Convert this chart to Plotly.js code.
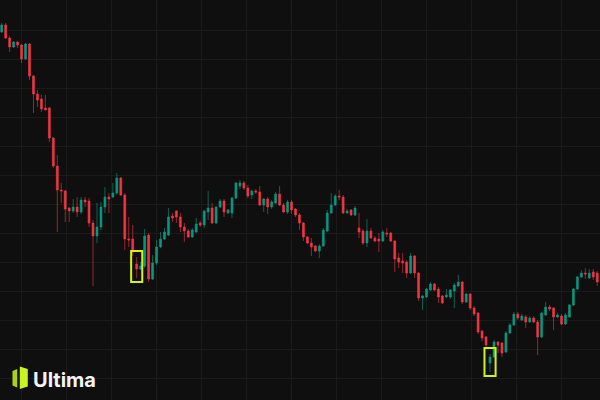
<!DOCTYPE html>
<html><head><meta charset="utf-8">
<script src="https://cdn.plot.ly/plotly-3.0.1.min.js"></script>
<style>html,body{margin:0;padding:0;background:#0f0f0f;}#chart{width:600px;height:400px;}</style>
</head><body><div id="chart"></div>
<script>
// OHLC values (arbitrary price units)
const openVals = [
468,475,462,453,458,455,441,456,424,406,
401,392,392,362,334,310,309,292,289,293,
288,300,299,277,264,273,293,303,303,307,
322,305,261,261,236,231,234,265,221,237,
253,261,265,284,289,283,273,269,263,268,
277,275,288,292,277,293,299,287,287,302,
314,317,312,305,309,308,295,301,293,297,
306,295,288,298,291,285,277,263,257,254,
249,254,269,287,295,304,303,287,290,285,
272,269,257,269,262,261,259,267,267,259,
242,239,238,227,244,227,202,203,210,216,
211,204,203,203,209,214,218,198,206,192,
187,169,163,137,143,158,157,148,167,175,
186,180,183,178,182,178,163,185,193,192,
183,184,176,183,195,211,223,227,222,228,
227];
const highVals = [
477,477,464,459,459,456,457,457,425,410,
405,405,393,363,345,317,310,293,301,303,
303,303,302,280,297,298,313,307,317,327,
323,307,283,275,243,238,271,267,245,260,
268,272,292,287,290,287,277,271,272,282,
279,290,309,297,294,301,301,291,303,318,
320,319,315,310,311,314,302,303,300,308,
314,297,300,300,292,287,278,264,262,255,
256,272,290,307,306,310,305,291,291,294,
287,271,281,272,264,267,270,272,268,260,
247,247,240,247,245,228,205,212,218,217,
213,205,211,211,217,225,219,207,207,194,
188,170,164,146,160,159,158,169,177,188,
188,186,185,184,184,180,188,198,195,193,
187,186,187,196,212,224,230,232,231,231,
229];
const lowVals = [
467,461,448,452,452,437,440,420,387,393,
388,390,358,332,268,297,278,278,287,283,
286,293,273,214,257,270,287,287,302,305,
304,250,253,244,222,230,232,218,220,235,
252,260,264,278,277,268,258,262,262,267,
273,272,280,276,276,292,283,286,282,301,
311,310,302,301,306,294,288,286,291,296,
294,287,286,286,283,270,259,256,244,248,
242,253,268,286,294,300,286,286,284,284,
262,255,253,261,258,248,258,263,258,228,
232,227,222,226,222,199,190,202,209,209,
197,196,202,201,192,213,196,197,190,184,
166,159,152,128,142,147,143,147,166,174,
180,179,172,177,177,145,162,184,189,170,
182,175,175,182,194,210,222,221,221,220,
214];
const closeVals = [
475,462,453,458,455,441,456,424,406,400,
391,390,362,334,310,309,291,289,293,288,
300,298,277,264,273,293,303,301,307,322,
305,261,260,248,231,234,264,221,237,253,
261,268,283,282,283,273,269,263,270,276,
275,289,292,277,293,299,288,290,302,317,
317,312,304,309,308,295,301,293,298,306,
295,288,298,290,285,277,263,257,253,249,
254,270,287,295,304,303,287,289,285,292,
268,257,269,262,259,259,268,266,259,241,
238,237,227,244,227,202,204,211,216,210,
203,197,205,210,215,218,198,206,192,186,
168,162,155,143,158,155,147,167,175,186,
182,184,178,182,178,163,187,193,191,183,
185,176,185,195,211,223,227,226,227,223,
218];
const highlightedCandles = [34, 123];
const brandName = "Ultima";

const UP = '#089981', DOWN = '#f23645';
const UP_WICK = 'rgba(8,153,129,0.6)', DOWN_WICK = 'rgba(242,54,69,0.6)';
const idx = openVals.map((_, i) => i);

// wicks
const wx = {up: [], down: []}, wy = {up: [], down: []};
idx.forEach(i => {
  const k = closeVals[i] >= openVals[i] ? 'up' : 'down';
  wx[k].push(i, i, null);
  wy[k].push(Math.min(lowVals[i], openVals[i], closeVals[i]), Math.max(highVals[i], openVals[i], closeVals[i]), null);
});
const wickUp = {type: 'scatter', mode: 'lines', x: wx.up, y: wy.up, line: {color: UP_WICK, width: 1}, hoverinfo: 'skip', connectgaps: false};
const wickDown = {type: 'scatter', mode: 'lines', x: wx.down, y: wy.down, line: {color: DOWN_WICK, width: 1}, hoverinfo: 'skip', connectgaps: false};

// bodies
const bodies = {
  type: 'candlestick', x: idx, open: openVals, close: closeVals,
  high: idx.map(i => Math.max(openVals[i], closeVals[i])),
  low: idx.map(i => Math.min(openVals[i], closeVals[i])),
  increasing: {line: {color: UP, width: 0.6}, fillcolor: UP},
  decreasing: {line: {color: DOWN, width: 0.6}, fillcolor: DOWN},
  whiskerwidth: 0, hoverinfo: 'skip'
};

// highlight boxes from candle data
const shapes = highlightedCandles.map(i => ({
  type: 'rect', xref: 'x', yref: 'y', layer: 'above',
  x0: i - 1.4, x1: i + 1.4,
  y0: lowVals[i] - 4, y1: highVals[i] + 6,
  line: {color: '#d6f20c', width: 2}, fillcolor: 'rgba(0,0,0,0)'
}));

// logo icon (paper coordinates from pixel layout)
const W = 600, H = 400;
const P = (px, py) => (px / W).toFixed(4) + ',' + (1 - py / H).toFixed(4);
const poly = pts => 'M' + pts.map(p => P(p[0], p[1])).join(' L') + ' Z';
shapes.push({type: 'path', xref: 'paper', yref: 'paper', layer: 'above',
  path: poly([[12.5, 371], [17.2, 369], [17.2, 387.5], [12.5, 385.5]]),
  fillcolor: '#a9d317', line: {width: 0}});
shapes.push({type: 'path', xref: 'paper', yref: 'paper', layer: 'above',
  path: poly([[19.8, 366.5], [27.8, 369], [27.8, 386.5], [19.8, 389]]),
  fillcolor: '#c8f51f', line: {width: 0}});

const layout = {
  width: W, height: H,
  margin: {l: 0, r: 0, t: 0, b: 0, pad: 0},
  paper_bgcolor: '#0f0f0f', plot_bgcolor: '#0f0f0f',
  showlegend: false,
  xaxis: {range: [-0.43, 150.7], showticklabels: false, ticks: '', zeroline: false,
    showline: false, showgrid: true, gridcolor: '#1b1b1b', gridwidth: 1,
    tick0: 5.1, dtick: 11.33, rangeslider: {visible: false}, fixedrange: true},
  yaxis: {range: [100, 500], showticklabels: false, ticks: '', zeroline: false,
    showline: false, showgrid: true, gridcolor: '#1b1b1b', gridwidth: 1,
    tick0: 122, dtick: 29, fixedrange: true},
  shapes: shapes,
  annotations: [{
    text: brandName, xref: 'paper', yref: 'paper',
    x: 31 / W, y: 1 - 379.5 / H, xanchor: 'left', yanchor: 'middle', showarrow: false,
    font: {family: 'Inter, Roboto, sans-serif', size: 20, color: '#f4f4f4', weight: 700}
  }]
};

Plotly.newPlot('chart', [wickUp, wickDown, bodies], layout, {staticPlot: true, displayModeBar: false});
</script>
</body></html>
